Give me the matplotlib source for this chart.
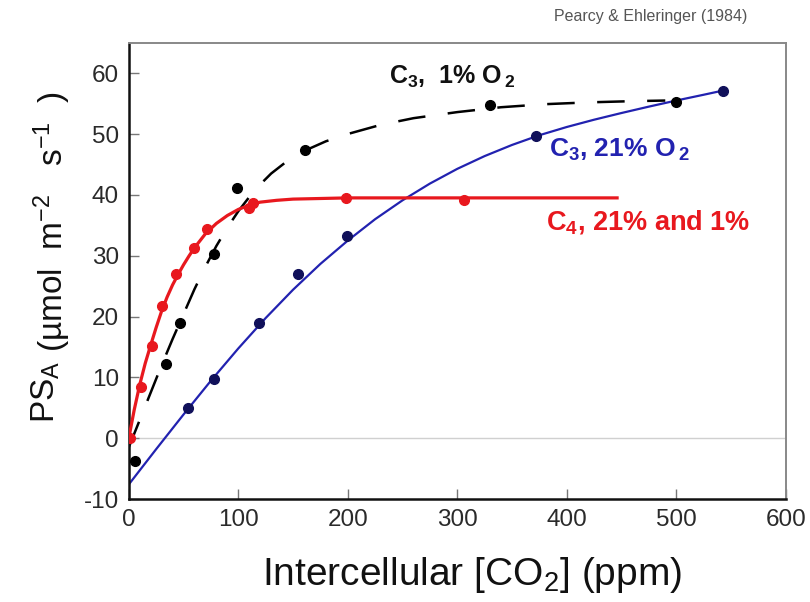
import matplotlib
matplotlib.use("Agg")
import matplotlib.pyplot as plt

plt.rcParams['font.family'] = ['Liberation Sans', 'DejaVu Sans']
plt.rcParams['mathtext.fontset'] = 'custom'
plt.rcParams['mathtext.rm'] = 'Liberation Sans'
plt.rcParams['mathtext.it'] = 'Liberation Sans'
plt.rcParams['mathtext.bf'] = 'Liberation Sans:bold'
plt.rcParams['axes.unicode_minus'] = False

# C4 plants, 21% and 1% O2 (red)
c4_x = [1, 11, 21, 30, 43, 60, 71, 110, 113, 198, 306]
c4_y = [0.0, 8.4, 15.1, 21.7, 27.0, 31.2, 34.4, 37.9, 38.7, 39.4, 39.1]
c4_fit_x = [0, 5, 10, 15, 20, 25, 30, 35, 40, 45, 50, 55, 60, 70, 80, 90, 100, 110, 120, 135, 150, 175, 200, 300, 446]
c4_fit_y = [0.0, 4.7, 8.8, 12.3, 15.3, 18.2, 20.9, 23.2, 25.2, 26.9, 28.5, 29.95, 31.3, 33.6, 35.3, 36.6, 37.6,
            38.3, 38.8, 39.1, 39.3, 39.4, 39.5, 39.5, 39.5]

# C3 plants, 1% O2 (black, dashed)
c3lo_x = [6, 34, 47, 78, 99, 161, 330, 500]
c3lo_y = [-3.8, 12.2, 19.0, 30.3, 41.2, 47.4, 54.7, 55.2]
c3lo_fit_x = [0, 10, 20, 30, 40, 50, 60, 70, 80, 90, 100, 115, 130, 145, 160, 180, 200, 230, 260, 300, 340, 380,
              420, 460, 490]
c3lo_fit_y = [-1.5, 3.0, 7.5, 12.0, 16.3, 20.4, 24.5, 28.2, 31.6, 34.6, 37.3, 40.8, 43.5, 45.6, 47.2, 48.8, 50.0,
              51.5, 52.6, 53.6, 54.4, 54.9, 55.2, 55.4, 55.5]

# C3 plants, 21% O2 (blue)
c3hi_x = [54, 78, 119, 155, 199, 372, 543]
c3hi_y = [4.9, 9.8, 19.0, 27.0, 33.2, 49.7, 57.1]
c3hi_fit_x = [0, 25, 50, 75, 100, 125, 150, 175, 200, 225, 250, 275, 300, 325, 350, 375, 400, 425, 450, 475, 500,
              525, 543]
c3hi_fit_y = [-7.6, -1.8, 3.9, 9.45, 14.75, 19.75, 24.4, 28.65, 32.48, 36.0, 39.1, 41.85, 44.27, 46.37, 48.2, 49.8,
              51.15, 52.35, 53.45, 54.5, 55.5, 56.45, 57.15]

red = '#e8181e'
blue = '#2222b0'
navy = '#10105a'

fig = plt.figure(figsize=(8.1, 6.02), dpi=100)
ax = fig.add_axes([0.159, 0.171, 0.811, 0.758])

ax.axhline(0, color='#d0d0d0', lw=1, zorder=1)

ax.plot(c3hi_fit_x, c3hi_fit_y, color=blue, lw=1.6, zorder=2)
ax.plot(c3hi_x, c3hi_y, 'o', color=navy, ms=7, zorder=3)

ax.plot(c3lo_fit_x, c3lo_fit_y, color='black', lw=1.8, dashes=(11, 9), zorder=2)
ax.plot(c3lo_x, c3lo_y, 'o', color='black', ms=7, zorder=3)

ax.plot(c4_fit_x, c4_fit_y, color=red, lw=2.3, zorder=4)
ax.plot(c4_x, c4_y, 'o', color=red, ms=7, zorder=5)

ax.set_xlim(0, 600)
ax.set_ylim(-10, 65)
ax.set_xticks(range(0, 601, 100))
ax.set_yticks(range(-10, 61, 10))
ax.tick_params(direction='in', length=7, width=1, color='#777777',
               labelsize=17.5, labelcolor='#2a2a2a', pad=7)

for s in ['left', 'bottom']:
    ax.spines[s].set_linewidth(1.8)
    ax.spines[s].set_color('#111111')
for s in ['top', 'right']:
    ax.spines[s].set_linewidth(1.4)
    ax.spines[s].set_color('#888888')

# axis titles
fig.text(0.583, 0.028, r'Intercellular [CO$_2$] (ppm)', fontsize=28, color='#111111',
         ha='center', va='baseline')
fig.text(0.057, 1 - 423 / 602, r'PS$_\mathrm{A}$', fontsize=24, color='#111111',
         rotation=90, ha='center', va='bottom')
fig.text(0.064, 1 - 352 / 602, r'(µmol  m$^{-2}$   s$^{-1}$  )', fontsize=24, color='#111111',
         rotation=90, ha='center', va='bottom')

# curve labels
ax.text(238, 58.3, r'C$_\mathbf{3}$,  1% O$\,_\mathbf{2}$', fontsize=18, fontweight='bold',
        color='#111111', va='baseline')
ax.text(384, 46.3, r'C$_\mathbf{3}$, 21% O$\,_\mathbf{2}$', fontsize=19, fontweight='bold',
        color=blue, va='baseline')
ax.text(381, 34.3, r'C$_\mathbf{4}$, 21% and 1%', fontsize=19.5, fontweight='bold',
        color=red, va='baseline')

fig.text(0.923, 0.972, 'Pearcy & Ehleringer (1984)', fontsize=11.5, color='#555555', ha='right', va='center')

fig.savefig('out.png', dpi=100)
